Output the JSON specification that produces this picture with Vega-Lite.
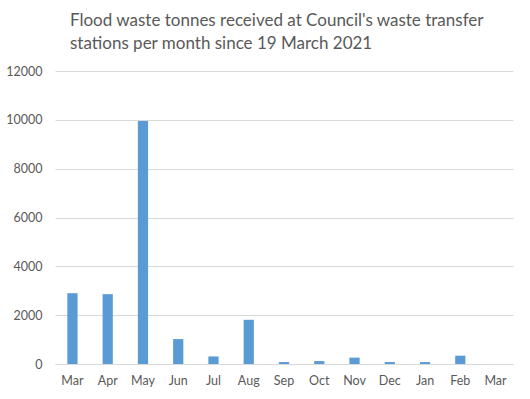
{
  "$schema": "https://vega.github.io/schema/vega-lite/v6.json",
  "width": 458,
  "height": 293,
  "autosize": {"type": "none"},
  "padding": {"left": 55, "top": 71, "right": 17, "bottom": 35},
  "background": "white",
  "title": {
    "text": ["Flood waste tonnes received at Council's waste transfer", "stations per month since 19 March 2021"],
    "anchor": "start",
    "frame": "group",
    "dx": 15,
    "offset": 12,
    "font": "Lato",
    "fontSize": 17,
    "fontWeight": "normal",
    "color": "#595959",
    "lineHeight": 23
  },
  "data": {
    "values": [
      {"month": "Mar", "idx": 1, "tonnes": 2900},
      {"month": "Apr", "idx": 2, "tonnes": 2860},
      {"month": "May", "idx": 3, "tonnes": 9950},
      {"month": "Jun", "idx": 4, "tonnes": 1020},
      {"month": "Jul", "idx": 5, "tonnes": 310},
      {"month": "Aug", "idx": 6, "tonnes": 1810},
      {"month": "Sep", "idx": 7, "tonnes": 80},
      {"month": "Oct", "idx": 8, "tonnes": 120},
      {"month": "Nov", "idx": 9, "tonnes": 260},
      {"month": "Dec", "idx": 10, "tonnes": 80},
      {"month": "Jan", "idx": 11, "tonnes": 80},
      {"month": "Feb", "idx": 12, "tonnes": 340},
      {"month": "Mar ", "idx": 13, "tonnes": 0}
    ]
  },
  "mark": {"type": "bar", "color": "#5b9bd5"},
  "encoding": {
    "x": {
      "field": "month",
      "type": "nominal",
      "sort": {"field": "idx"},
      "scale": {"paddingInner": 0.71, "paddingOuter": 0.35},
      "axis": {
        "title": null,
        "labelAngle": 0,
        "ticks": false,
        "domainColor": "#d9d9d9",
        "labelColor": "#595959",
        "labelFont": "Lato",
        "labelFontSize": 12.5,
        "labelPadding": 10
      }
    },
    "y": {
      "field": "tonnes",
      "type": "quantitative",
      "scale": {"domain": [0, 12000]},
      "axis": {
        "title": null,
        "values": [0, 2000, 4000, 6000, 8000, 10000, 12000],
        "format": "d",
        "domain": false,
        "ticks": false,
        "gridColor": "#d9d9d9",
        "labelColor": "#595959",
        "labelFont": "Lato",
        "labelFontSize": 12.5,
        "labelPadding": 13
      }
    }
  },
  "config": {"view": {"stroke": null}}
}
